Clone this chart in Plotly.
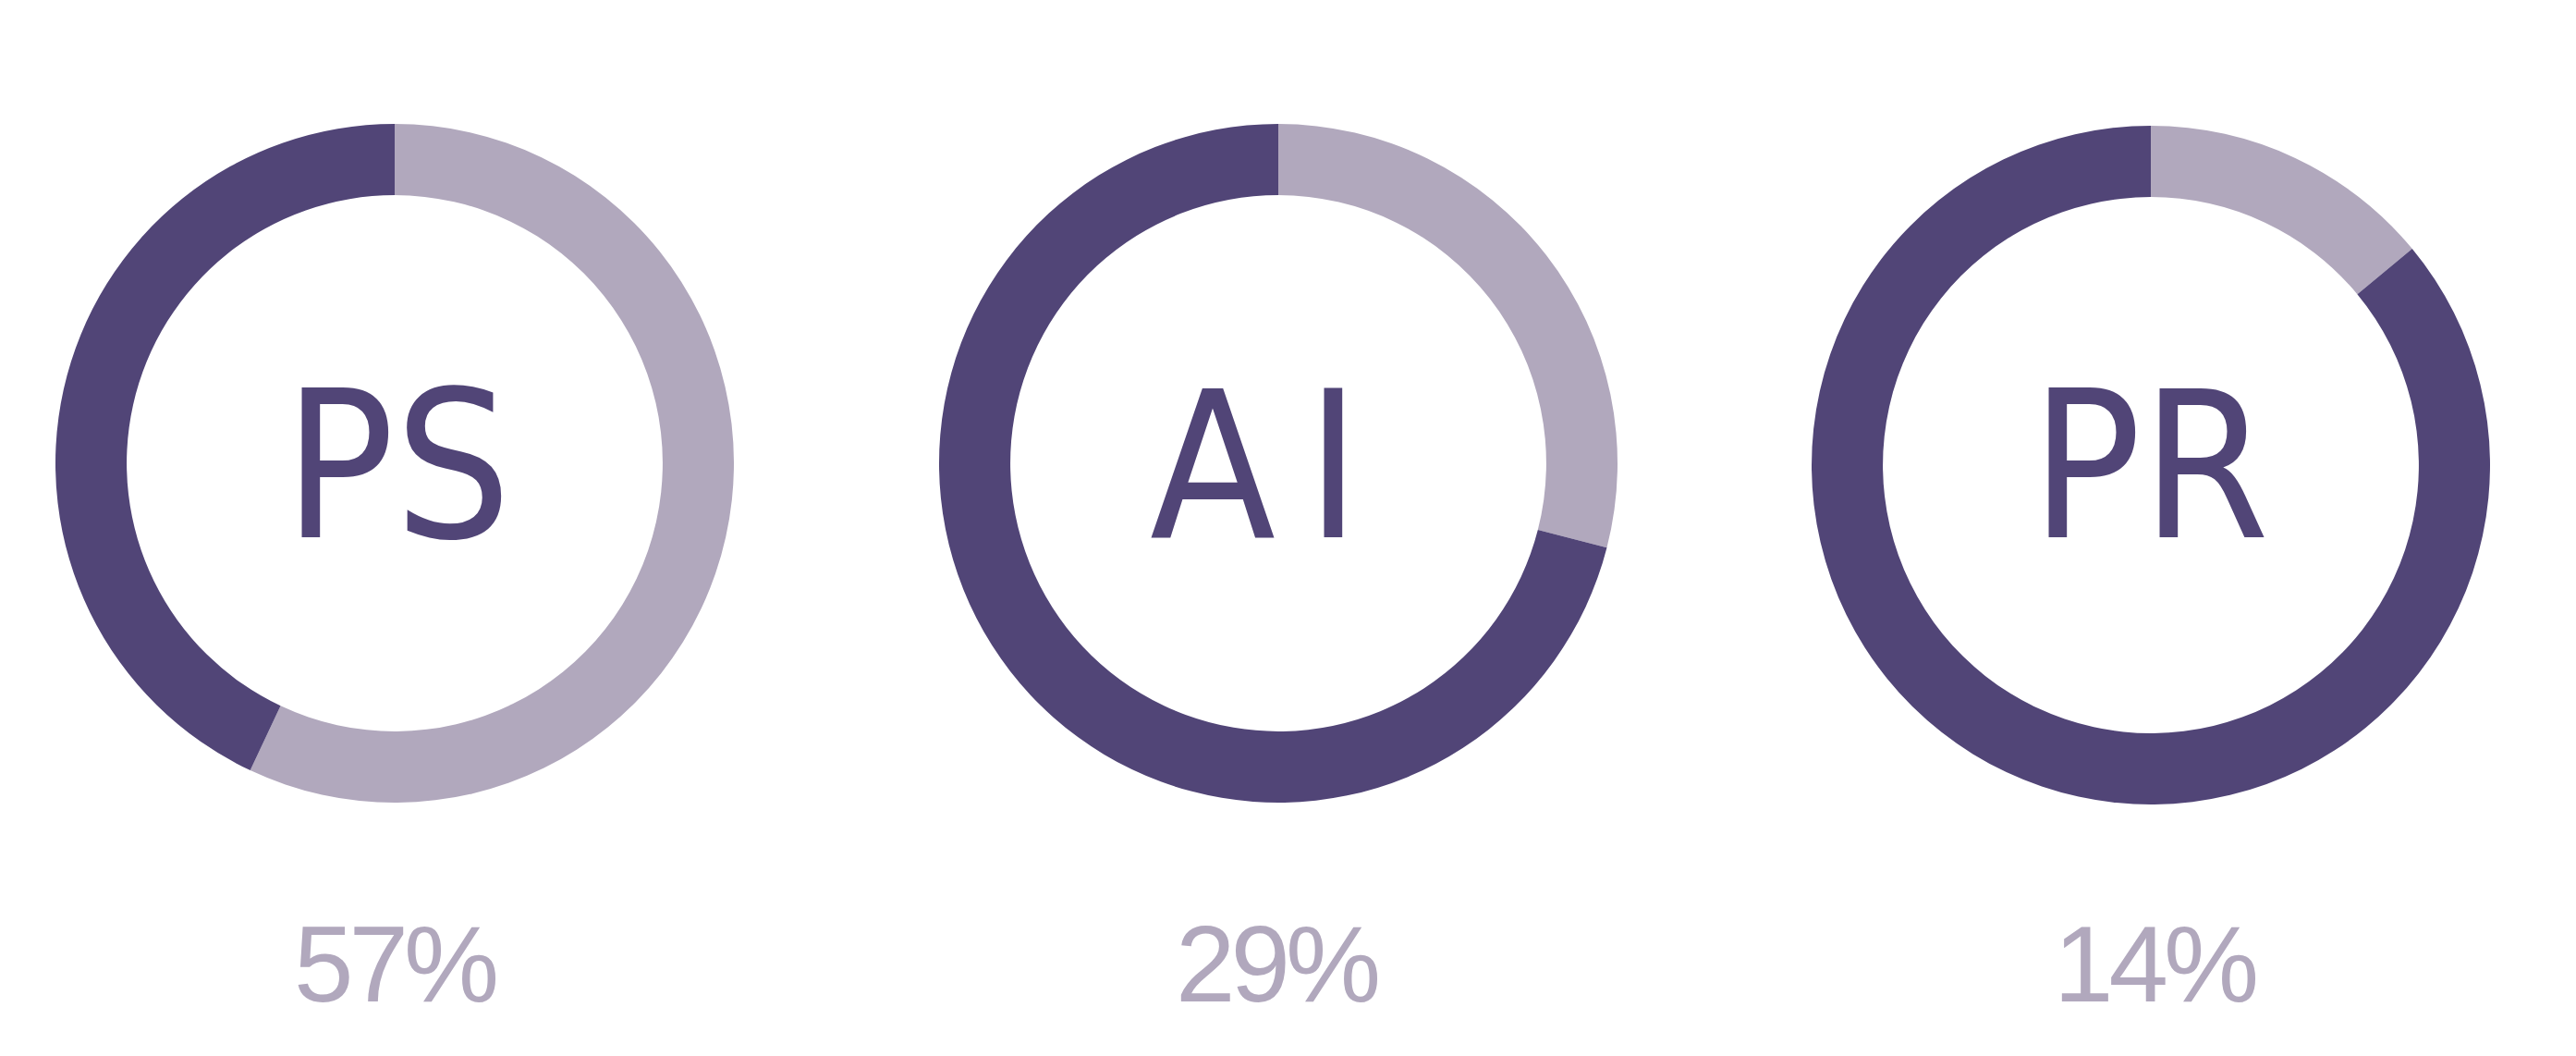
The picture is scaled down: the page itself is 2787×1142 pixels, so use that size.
import plotly.graph_objects as go

W, H = 2787, 1142

# Data
labels = ["PS", "AI", "PR"]
center_text = ["PS", "A\u2006I", "PR"]
share = [57, 29, 14]
rest = [43, 71, 86]
pct_labels = ["57%", "29%", "14%"]

DARK = "#514577"
LIGHT = "#b1a8bd"

# layout (pixel centres of each donut)
centers = [(427, 501), (1383, 501), (2327, 503)]
R = 367
text_x = [430, 1358, 2326]
pct_x = [427, 1381, 2331]

fig = go.Figure()
for i, lab in enumerate(labels):
    cx, cy = centers[i]
    fig.add_trace(go.Pie(
        values=[share[i], rest[i]],
        labels=[lab + " share", lab + " rest"],
        marker=dict(colors=[LIGHT, DARK], line=dict(width=0)),
        hole=0.79,
        sort=False,
        direction="clockwise",
        rotation=0,
        textinfo="none",
        hoverinfo="label+percent",
        showlegend=False,
        domain=dict(x=[(cx - R) / W, (cx + R) / W],
                    y=[(H - cy - R) / H, (H - cy + R) / H]),
    ))

annotations = []
for i in range(3):
    annotations.append(dict(
        x=text_x[i] / W, y=1 - 504 / H, xref="paper", yref="paper",
        text=center_text[i], showarrow=False, xanchor="center", yanchor="middle",
        font=dict(family="DejaVu Sans Condensed, Roboto", size=221, color=DARK),
    ))
    annotations.append(dict(
        x=pct_x[i] / W, y=1 - 1043 / H, xref="paper", yref="paper",
        text='<span style="letter-spacing:-5px">' + pct_labels[i] + '</span>',
        showarrow=False, xanchor="center", yanchor="middle",
        font=dict(family="Liberation Sans, Arial", size=116, color=LIGHT),
    ))

fig.update_layout(
    width=W, height=H,
    margin=dict(l=0, r=0, t=0, b=0),
    paper_bgcolor="white", plot_bgcolor="white",
    annotations=annotations,
)

fig.write_html("out.html")
